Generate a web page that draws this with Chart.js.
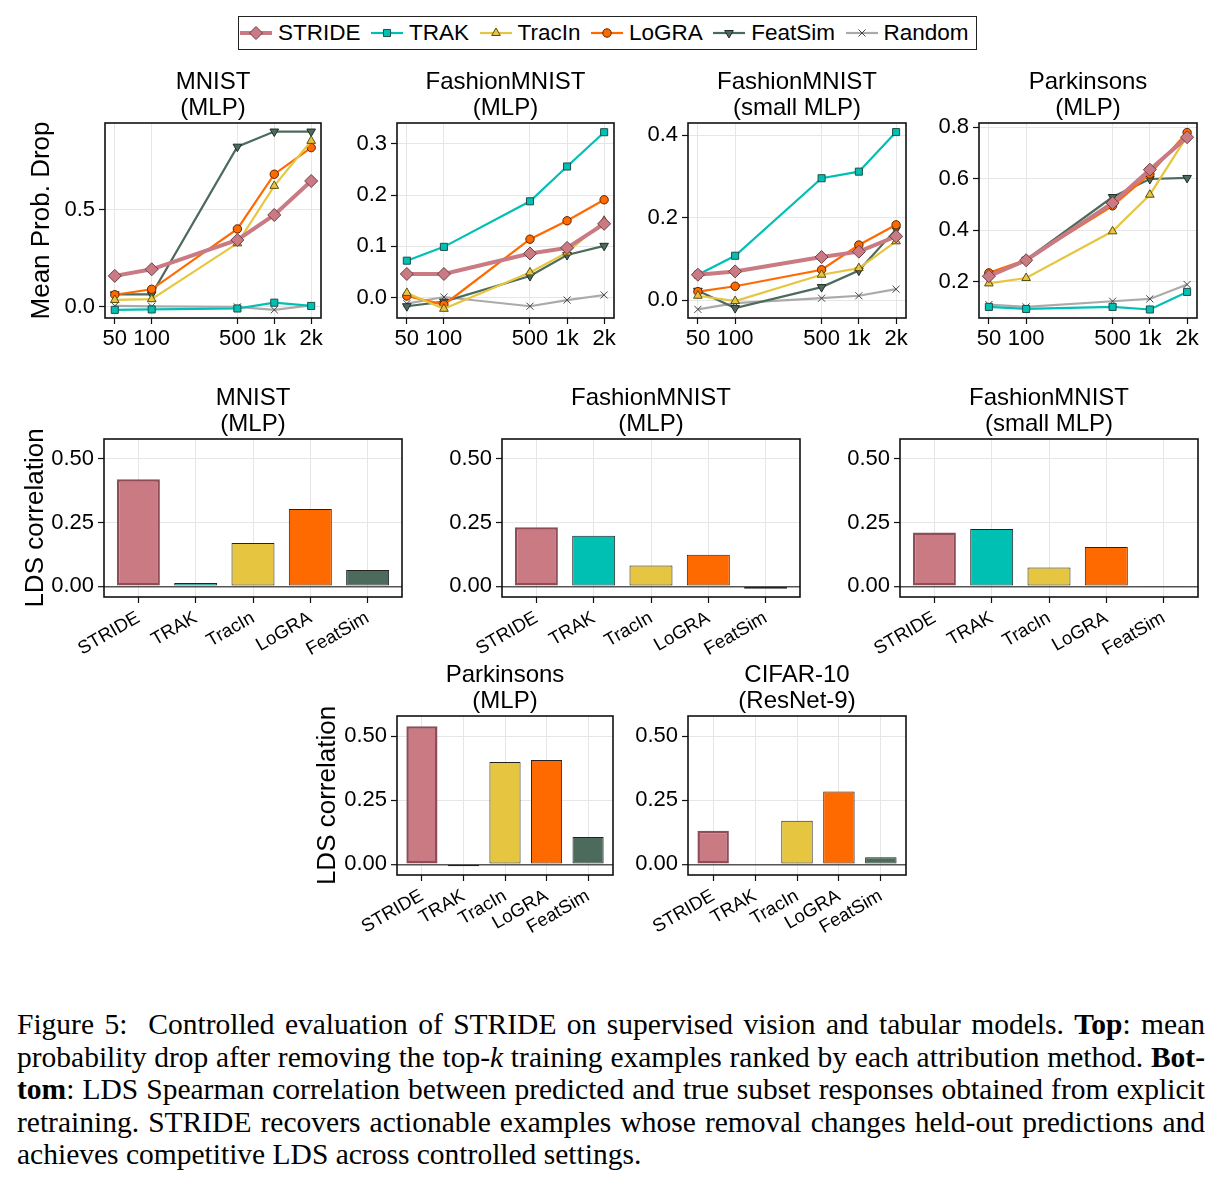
<!DOCTYPE html>
<html>
<head>
<meta charset="utf-8">
<script src="https://cdn.jsdelivr.net/npm/chart.js@4.4.1/dist/chart.umd.min.js"></script>
<style>
  html,body{margin:0;padding:0;background:#fff;}
  body{width:1224px;height:1187px;position:relative;overflow:hidden;font-family:"Liberation Sans",Arial,sans-serif;color:#000;}
  canvas.panel{position:absolute;}
  #legend{position:absolute;left:238px;top:16px;width:739px;height:34px;box-sizing:border-box;border:1px solid #222;
    display:flex;align-items:center;padding-left:1px;font-size:22.5px;}
  #legend .item{display:flex;align-items:center;margin-right:10.5px;}
  #legend .item:last-child{margin-right:0;}
  #legend canvas{width:32px;height:22px;margin-right:6px;}
  #caption{position:absolute;left:17px;top:1008px;width:1188px;font-family:"Liberation Serif","Times New Roman",serif;
    font-size:29.5px;line-height:32.5px;color:#000;}
  #caption .j{text-align:justify;text-align-last:justify;}
</style>
</head>
<body>
<div id="legend"></div>
<div id="caption">
  <div class="j">Figure 5:&nbsp; Controlled evaluation of STRIDE on supervised vision and tabular models. <b>Top</b>: mean</div>
  <div class="j">probability drop after removing the top-<i>k</i> training examples ranked by each attribution method. <b>Bot-</b></div>
  <div class="j"><b>tom</b>: LDS Spearman correlation between predicted and true subset responses obtained from explicit</div>
  <div class="j">retraining. STRIDE recovers actionable examples whose removal changes held-out predictions and</div>
  <div>achieves competitive LDS across controlled settings.</div>
</div>
<script>
// ---------------- DATA ----------------
const methods = ['STRIDE', 'TRAK', 'TracIn', 'LoGRA', 'FeatSim', 'Random'];
const kValues = [50, 100, 500, 1000, 2000];
const kLabels = ['50', '100', '500', '1k', '2k'];

// Mean probability drop (rows follow `methods`, columns follow `kValues`)
const dropMNIST = [
  [0.160, 0.194, 0.345, 0.474, 0.649],
  [-0.015, -0.013, -0.008, 0.022, 0.005],
  [0.036, 0.040, 0.328, 0.624, 0.856],
  [0.063, 0.091, 0.402, 0.684, 0.821],
  [0.065, 0.065, 0.826, 0.904, 0.904],
  [0.005, 0.003, 0.000, -0.015, 0.008]
];
const dropFashion = [
  [0.046, 0.046, 0.086, 0.097, 0.144],
  [0.072, 0.099, 0.188, 0.256, 0.323],
  [0.009, -0.022, 0.049, 0.088, 0.150],
  [0.003, -0.014, 0.114, 0.150, 0.191],
  [-0.017, -0.008, 0.042, 0.083, 0.101],
  [-0.012, 0.001, -0.017, -0.005, 0.005]
];
const dropFashionSmall = [
  [0.062, 0.070, 0.105, 0.118, 0.155],
  [0.062, 0.108, 0.296, 0.312, 0.408],
  [0.011, -0.002, 0.062, 0.078, 0.143],
  [0.021, 0.034, 0.074, 0.134, 0.183],
  [0.023, -0.019, 0.032, 0.072, 0.172],
  [-0.022, -0.007, 0.005, 0.011, 0.027]
];
const dropParkinsons = [
  [0.222, 0.284, 0.506, 0.635, 0.761],
  [0.103, 0.095, 0.103, 0.093, 0.161],
  [0.194, 0.215, 0.396, 0.538, 0.765],
  [0.235, 0.286, 0.495, 0.618, 0.779],
  [0.225, 0.286, 0.529, 0.599, 0.603],
  [0.112, 0.103, 0.125, 0.134, 0.190]
];

// LDS correlation (columns follow ldsMethods)
const ldsMethods = ['STRIDE', 'TRAK', 'TracIn', 'LoGRA', 'FeatSim'];
const ldsMNIST = [0.420, 0.013, 0.170, 0.303, 0.064];
const ldsFashion = [0.232, 0.198, 0.082, 0.124, -0.010];
const ldsFashionSmall = [0.211, 0.225, 0.074, 0.154, -0.002];
const ldsParkinsons = [0.538, -0.008, 0.399, 0.406, 0.106];
const ldsCIFAR = [0.131, 0.003, 0.170, 0.284, 0.027];

// Titles and ticks
const lineTitles = [['MNIST', '(MLP)'], ['FashionMNIST', '(MLP)'], ['FashionMNIST', '(small MLP)'], ['Parkinsons', '(MLP)']];
const barTitles = [['MNIST', '(MLP)'], ['FashionMNIST', '(MLP)'], ['FashionMNIST', '(small MLP)'], ['Parkinsons', '(MLP)'], ['CIFAR-10', '(ResNet-9)']];
const dropTicks = [[0, 0.5], [0, 0.1, 0.2, 0.3], [0, 0.2, 0.4], [0.2, 0.4, 0.6, 0.8]];
const ldsTicks = [0, 0.25, 0.5];
const dropAxisTitle = 'Mean Prob. Drop';
const ldsAxisTitle = 'LDS correlation';

// ---------------- STYLE / LAYOUT ----------------
const FONT = '"Liberation Sans", Arial, sans-serif';
Chart.defaults.font.family = FONT;
Chart.defaults.color = '#000';

const seriesStyle = {
  STRIDE:  {color: '#c97a82', width: 4,   point: 'rectRot',  r: 6.5, rot: 0,   edge: '#6e3f46'},
  TRAK:    {color: '#00bfb3', width: 2.2, point: 'rect',     r: 5,   rot: 0,   edge: '#1f4f4b'},
  TracIn:  {color: '#e6c640', width: 2.2, point: 'triangle', r: 5,   rot: 0,   edge: '#5a4d12'},
  LoGRA:   {color: '#ff6a00', width: 2.2, point: 'circle',   r: 4.2, rot: 0,   edge: '#5a2500'},
  FeatSim: {color: '#4d6b5c', width: 2.2, point: 'triangle', r: 5,   rot: 180, edge: '#1f2d26'},
  Random:  {color: '#aaaaaa', width: 2.2, point: 'crossRot', r: 5,   rot: 0,   edge: '#444444'}
};
const barStyle = {
  STRIDE:  {fill: '#c97a82', edge: '#8e4d57', bw: 2.5},
  TRAK:    {fill: '#00bfb3', edge: '#222', bw: 1},
  TracIn:  {fill: '#e6c640', edge: '#222', bw: 1},
  LoGRA:   {fill: '#ff6a00', edge: '#222', bw: 1},
  FeatSim: {fill: '#4d6b5c', edge: '#222', bw: 1}
};

const GRID = '#e6e6e6';
const TICKC = '#111';

const lineLayout = [
  {box: [105, 123, 321, 318], y: [-0.057, 0.948], W: 79, yTitle: true},
  {box: [397, 123, 614, 318], y: [-0.040, 0.341], W: 70},
  {box: [688, 123, 906, 318], y: [-0.043, 0.430], W: 70},
  {box: [979, 123, 1197, 318], y: [0.060, 0.816], W: 70}
];
const barLayout = [
  {box: [104, 439, 402, 597], W: 84, yTitle: true},
  {box: [502, 439, 800, 597], W: 70},
  {box: [900, 439, 1198, 597], W: 70},
  {box: [397, 716, 613, 875], W: 85, yTitle: true},
  {box: [688, 716, 906, 875], W: 70}
];
const barY = [-0.042, 0.578];
const barX = [0.4, 5.6];

// ---------------- PLUGINS ----------------
const panelTitle = {
  id: 'panelTitle',
  afterDraw(chart, args, opts) {
    if (!opts || !opts.lines) return;
    const {ctx, chartArea: a} = chart;
    ctx.save();
    ctx.font = '24px ' + FONT;
    ctx.fillStyle = '#000';
    ctx.textAlign = 'center';
    ctx.textBaseline = 'middle';
    const cx = (a.left + a.right) / 2;
    opts.lines.forEach((t, i) => ctx.fillText(t, cx, a.top + opts.offsets[i]));
    ctx.restore();
  }
};
const frame = {
  id: 'frame',
  afterDraw(chart) {
    const {ctx, chartArea: a} = chart;
    ctx.save();
    ctx.strokeStyle = '#111';
    ctx.lineWidth = 1.6;
    ctx.strokeRect(a.left, a.top, a.right - a.left, a.bottom - a.top);
    ctx.restore();
  }
};

function makeCanvas(box, W, T, H, R) {
  const c = document.createElement('canvas');
  c.className = 'panel';
  const w = Math.round(W + (box[2] - box[0]) + R);
  const h = Math.round(T + (box[3] - box[1]) + H);
  c.width = w; c.height = h;
  c.style.width = w + 'px'; c.style.height = h + 'px';
  c.style.left = (box[0] - W) + 'px';
  c.style.top = (box[1] - T) + 'px';
  document.body.appendChild(c);
  return c;
}

const TITLE_OFFSETS = [-40.5, -14.5];

// ---------------- LINE PANELS ----------------
const dropData = [dropMNIST, dropFashion, dropFashionSmall, dropParkinsons];
lineLayout.forEach((L, p) => {
  const T = 70, H = 45, R = 20;
  const c = makeCanvas(L.box, L.W, T, H, R);
  const datasets = methods.map((m, si) => {
    const s = seriesStyle[m];
    return {
      label: m,
      data: kValues.map((k, i) => ({x: k, y: dropData[p][si][i]})),
      borderColor: s.color,
      borderWidth: s.width,
      backgroundColor: s.color,
      pointStyle: s.point,
      pointRadius: s.r,
      pointRotation: s.rot,
      pointBackgroundColor: s.color,
      pointBorderColor: s.edge,
      pointBorderWidth: 1,
      tension: 0,
      clip: false
    };
  });
  new Chart(c, {
    type: 'line',
    data: {datasets},
    plugins: [panelTitle, frame],
    options: {
      responsive: false, animation: false, events: [],
      layout: {padding: {top: T, right: R, left: 0, bottom: 0}},
      plugins: {legend: {display: false}, tooltip: {enabled: false},
        panelTitle: {lines: lineTitles[p], offsets: TITLE_OFFSETS}},
      scales: {
        x: {
          type: 'logarithmic', min: 41.6, max: 2405,
          grid: {color: GRID, lineWidth: 1, tickLength: 6, tickColor: TICKC, tickWidth: 1.2},
          border: {display: false},
          afterBuildTicks: s => { s.ticks = kValues.map(v => ({value: v})); },
          ticks: {autoSkip: false, maxRotation: 0, padding: 2, font: {size: 22}, color: '#000',
            callback: (v, i) => kLabels[i]},
          afterFit: s => { s.height = H; s.paddingLeft = 0; s.paddingRight = 0; }
        },
        y: {
          type: 'linear', min: L.y[0], max: L.y[1],
          grid: {color: GRID, lineWidth: 1, tickLength: 6, tickColor: TICKC, tickWidth: 1.2},
          border: {display: false},
          afterBuildTicks: s => { s.ticks = dropTicks[p].map(v => ({value: v})); },
          ticks: {padding: 4, font: {size: 22}, color: '#000', callback: v => Number(v).toFixed(1)},
          title: {display: !!L.yTitle, text: dropAxisTitle, font: {size: 26}, padding: 0, color: '#000'},
          afterFit: s => { s.width = L.W; s.paddingTop = 0; s.paddingBottom = 0; }
        }
      }
    }
  });
});

// ---------------- BAR PANELS ----------------
const ldsData = [ldsMNIST, ldsFashion, ldsFashionSmall, ldsParkinsons, ldsCIFAR];
barLayout.forEach((L, p) => {
  const T = 70, H = 90, R = 20;
  const c = makeCanvas(L.box, L.W, T, H, R);
  new Chart(c, {
    type: 'bar',
    data: {
      datasets: [{
        data: ldsMethods.map((m, i) => ({x: i + 1, y: ldsData[p][i]})),
        backgroundColor: ldsMethods.map(m => barStyle[m].fill),
        borderColor: ldsMethods.map(m => barStyle[m].edge),
        borderWidth: ldsMethods.map(m => barStyle[m].bw),
        borderSkipped: false,
        barPercentage: 0.75,
        categoryPercentage: 1.0,
        clip: false
      }]
    },
    plugins: [panelTitle, frame],
    options: {
      responsive: false, animation: false, events: [],
      layout: {padding: {top: T, right: R, left: 0, bottom: 0}},
      plugins: {legend: {display: false}, tooltip: {enabled: false},
        panelTitle: {lines: barTitles[p], offsets: TITLE_OFFSETS}},
      scales: {
        x: {
          type: 'linear', min: barX[0], max: barX[1], offset: false,
          grid: {offset: false, color: GRID, lineWidth: 1, tickLength: 6, tickColor: TICKC, tickWidth: 1.2},
          border: {display: false},
          afterBuildTicks: s => { s.ticks = ldsMethods.map((m, i) => ({value: i + 1})); },
          ticks: {autoSkip: false, minRotation: 30, maxRotation: 30, padding: 4, font: {size: 18.5}, color: '#000',
            callback: (v, i) => ldsMethods[i]},
          afterFit: s => { s.height = H; s.paddingLeft = 0; s.paddingRight = 0; }
        },
        y: {
          type: 'linear', min: barY[0], max: barY[1],
          grid: {color: ctx => (ctx.tick && ctx.tick.value === 0) ? '#555' : GRID,
                 lineWidth: ctx => (ctx.tick && ctx.tick.value === 0) ? 1.4 : 1,
                 tickLength: 6, tickColor: TICKC, tickWidth: 1.2},
          border: {display: false},
          afterBuildTicks: s => { s.ticks = ldsTicks.map(v => ({value: v})); },
          ticks: {padding: 4, font: {size: 22}, color: '#000', callback: v => Number(v).toFixed(2)},
          title: {display: !!L.yTitle, text: ldsAxisTitle, font: {size: 26}, padding: 0, color: '#000'},
          afterFit: s => { s.width = L.W; s.paddingTop = 0; s.paddingBottom = 0; }
        }
      }
    }
  });
});

// ---------------- LEGEND ----------------
const legend = document.getElementById('legend');
methods.forEach(m => {
  const s = seriesStyle[m];
  const item = document.createElement('div');
  item.className = 'item';
  const cv = document.createElement('canvas');
  cv.width = 32; cv.height = 22;
  const ctx = cv.getContext('2d');
  ctx.strokeStyle = s.color;
  ctx.lineWidth = s.width;
  ctx.beginPath(); ctx.moveTo(0, 11); ctx.lineTo(32, 11); ctx.stroke();
  ctx.fillStyle = s.color;
  ctx.strokeStyle = s.edge;
  ctx.lineWidth = 1;
  if (Chart.helpers && Chart.helpers.drawPoint) {
    Chart.helpers.drawPoint(ctx, {pointStyle: s.point, radius: s.r, rotation: s.rot, borderWidth: 1}, 16, 11);
  }
  const t = document.createElement('span');
  t.textContent = m;
  item.appendChild(cv);
  item.appendChild(t);
  legend.appendChild(item);
});
</script>
</body>
</html>
